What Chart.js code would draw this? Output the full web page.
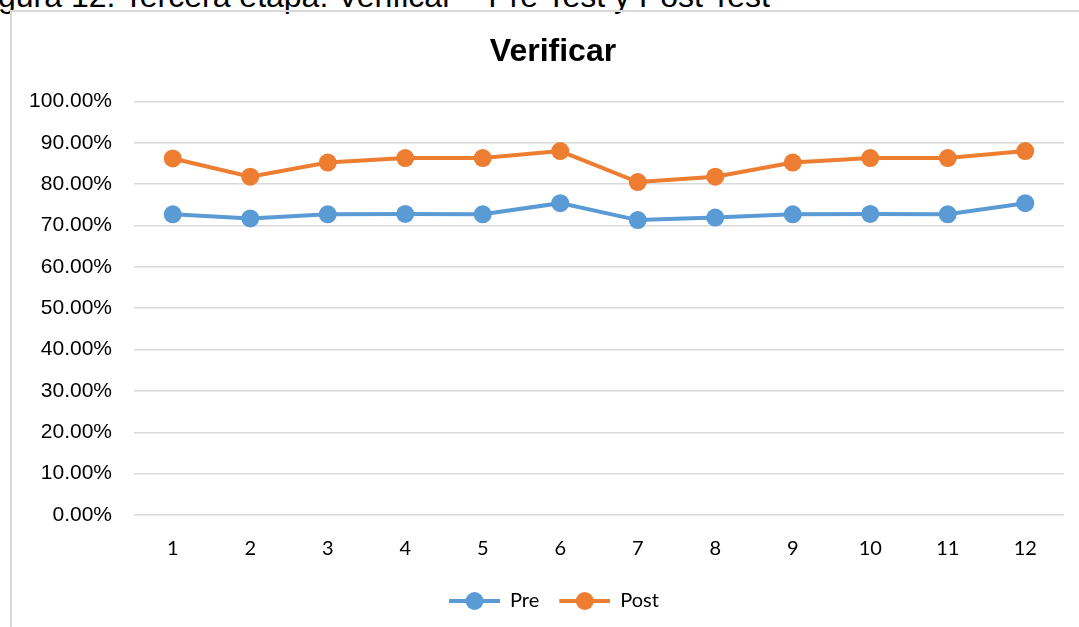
<!DOCTYPE html>
<html>
<head>
<meta charset="utf-8">
<script src="https://cdn.jsdelivr.net/npm/chart.js@4.4.1/dist/chart.umd.min.js"></script>
<style>
  html, body { margin: 0; padding: 0; background: #ffffff; overflow: hidden; }
  #wrap { position: relative; width: 1079px; height: 627px; overflow: hidden; }
  #caption { position: absolute; left: -2px; top: -20px; font: 32px "Liberation Sans", Arial, sans-serif; line-height: 32px; color: #000; white-space: nowrap; }
  #frame { position: absolute; left: 10px; top: 10px; width: 1100px; height: 700px; border-left: 2px solid #d9d9d9; border-top: 2px solid #d9d9d9; }
  #c { position: absolute; left: 0; top: 0; }
</style>
</head>
<body>
<div id="wrap">
  <div id="caption">gura 12. Tercera etapa: Verificar – Pre Test y Post Test</div>
  <div id="frame"></div>
  <canvas id="c" width="1079" height="627"></canvas>
</div>
<script>
const chartTitle = "Verificar";
const categories = ["1", "2", "3", "4", "5", "6", "7", "8", "9", "10", "11", "12"];
const preValues  = [72.7, 71.7, 72.7, 72.8, 72.7, 75.4, 71.3, 71.9, 72.7, 72.8, 72.7, 75.4];
const postValues = [86.2, 81.8, 85.2, 86.3, 86.3, 88.0, 80.5, 81.8, 85.2, 86.3, 86.3, 88.0];
const seriesNames = ["Pre", "Post"];
const seriesColors = ["#5B9BD5", "#ED7D31"];

const ICON_GAP = 12, ICON_LINE = 51;
function legendIcon(color) {
  const cv = document.createElement("canvas");
  cv.width = ICON_GAP + ICON_LINE; cv.height = 20;
  const g = cv.getContext("2d");
  g.strokeStyle = color; g.lineWidth = 4;
  g.beginPath(); g.moveTo(ICON_GAP, 10); g.lineTo(ICON_GAP + ICON_LINE, 10); g.stroke();
  g.fillStyle = color;
  g.beginPath(); g.arc(ICON_GAP + ICON_LINE / 2, 10, 9, 0, Math.PI * 2); g.fill();
  return cv;
}
const icons = seriesColors.map(legendIcon);

// Title and legend are centred over the frame (not the whole canvas) as in the original.
const centreOverFrame = {
  id: "centreOverFrame",
  afterLayout(chart) {
    if (chart.titleBlock) { chart.titleBlock.left = 42; chart.titleBlock.width = chart.titleBlock.right - 42; }
    if (chart.legend) { chart.legend.left = 32; chart.legend.width = chart.legend.right - 32; }
  }
};

new Chart(document.getElementById("c"), {
  type: "line",
  data: {
    labels: categories,
    datasets: [
      { label: seriesNames[0], data: preValues, borderColor: seriesColors[0], backgroundColor: seriesColors[0],
        borderWidth: 4, pointRadius: 9, pointBorderWidth: 0, pointHoverRadius: 9, pointStyle: "circle", tension: 0 },
      { label: seriesNames[1], data: postValues, borderColor: seriesColors[1], backgroundColor: seriesColors[1],
        borderWidth: 4, pointRadius: 9, pointBorderWidth: 0, pointHoverRadius: 9, pointStyle: "circle", tension: 0 }
    ]
  },
  plugins: [centreOverFrame],
  options: {
    responsive: false,
    animation: false,
    layout: { padding: { top: 0, right: 15, bottom: 6, left: 0 } },
    plugins: {
      title: {
        display: true, text: chartTitle, color: "#000000",
        font: { family: "'Liberation Sans', Arial, sans-serif", size: 32, weight: "bold" },
        padding: { top: 33, bottom: 30 }
      },
      legend: {
        position: "bottom",
        labels: {
          usePointStyle: true,
          pointStyleWidth: ICON_GAP + ICON_LINE,
          padding: 8,
          color: "#000000",
          font: { family: "Lato, 'Open Sans', sans-serif", size: 20 },
          generateLabels(chart) {
            return chart.data.datasets.map((ds, i) => ({
              text: ds.label, pointStyle: icons[i], fillStyle: ds.borderColor, strokeStyle: ds.borderColor,
              lineWidth: 0, hidden: false, datasetIndex: i, fontColor: "#000000"
            }));
          }
        }
      },
      tooltip: { enabled: false }
    },
    scales: {
      x: {
        offset: true,
        grid: { display: false, drawTicks: false },
        border: { display: false },
        ticks: { color: "#000000", padding: 22, font: { family: "Lato, 'Open Sans', sans-serif", size: 20 } }
      },
      y: {
        min: 0, max: 100,
        afterFit(scale) { scale.width = 134; },
        grid: { color: "#d9d9d9", lineWidth: 1.5, drawTicks: false },
        border: { display: false },
        ticks: { stepSize: 10, color: "#000000", padding: 22,
          font: { family: "'Liberation Sans', Arial, sans-serif", size: 21 },
          callback: v => v.toFixed(2) + "%" }
      }
    }
  }
});
</script>
</body>
</html>
